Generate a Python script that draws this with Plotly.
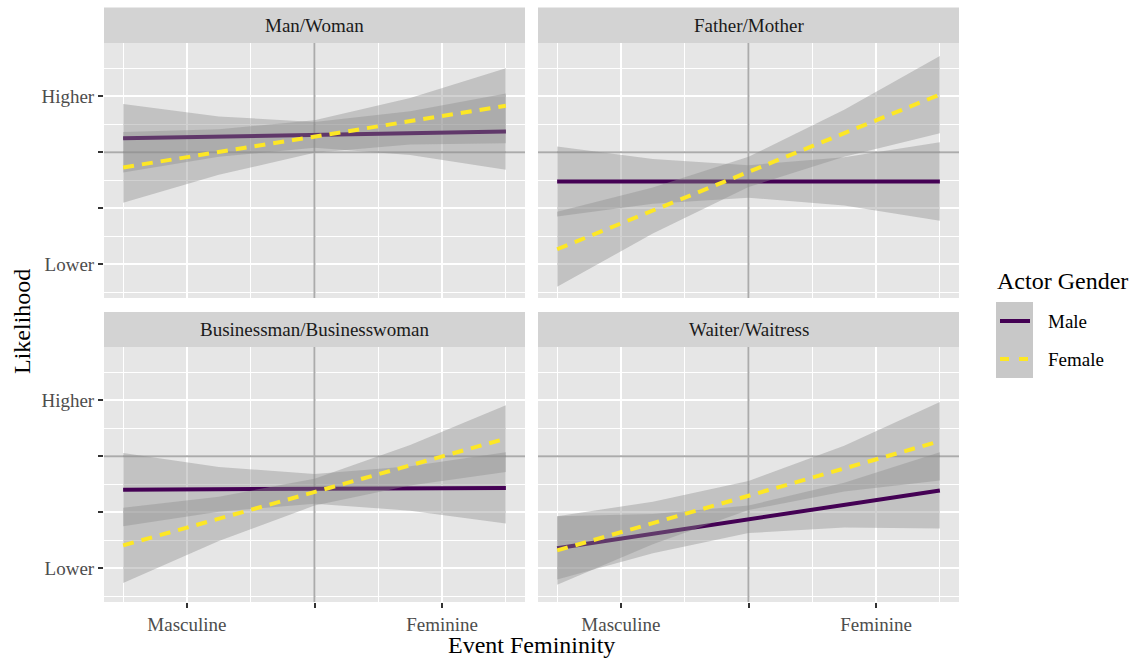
import plotly.graph_objects as go

# ---- data -------------------------------------------------------------
panel_titles = ["Man/Woman", "Father/Mother",
                "Businessman/Businesswoman", "Waiter/Waitress"]

x_line = [-1.5, 1.5]                      # fitted-line end points
x_band = [-1.5, -0.75, 0.0, 0.75, 1.5]    # confidence-band sample points

x_tick_vals = [-1, 0, 1]
x_tick_text = ["Masculine", "", "Feminine"]
y_tick_vals = [1, 2, 3, 4]
y_tick_text = ["Lower", "", "", "Higher"]

x_ref = 0      # vertical reference line (neutral event)
y_ref = 3      # horizontal reference line

male_line = [[3.25, 3.37], [2.48, 2.48], [2.405, 2.435], [1.36, 2.39]]
male_lower = [[2.64, 2.92, 3.08, 2.95, 2.69],
              [1.855, 2.08, 2.19, 2.05, 1.78],
              [1.75, 2.01, 2.155, 2.03, 1.80],
              [0.80, 1.27, 1.63, 1.73, 1.71]]
male_upper = [[3.86, 3.64, 3.54, 3.73, 4.05],
              [3.105, 2.88, 2.77, 2.91, 3.18],
              [3.06, 2.81, 2.685, 2.82, 3.07],
              [1.93, 1.97, 2.12, 2.53, 3.07]]

female_line = [[2.73, 3.83], [1.27, 4.03], [1.41, 3.315], [1.32, 3.27]]
female_lower = [[2.10, 2.60, 2.99, 3.14, 3.16],
                [0.60, 1.55, 2.38, 2.92, 3.34],
                [0.74, 1.49, 2.12, 2.48, 2.72],
                [0.71, 1.43, 2.04, 2.37, 2.57]]
female_upper = [[3.36, 3.41, 3.57, 3.97, 4.50],
                [1.94, 2.37, 2.92, 3.76, 4.72],
                [2.08, 2.28, 2.60, 3.20, 3.91],
                [1.93, 2.19, 2.56, 3.19, 3.97]]

# ---- styling ----------------------------------------------------------
W, H = 1141, 658
FONT = "Liberation Serif, Times New Roman, serif"
MALE_COL = "#440154"
FEMALE_COL = "#FDE725"
BAND_FILL = "rgba(140,140,140,0.4)"
PANEL_BG = "#E6E6E6"
STRIP_BG = "#D3D3D3"
REF_COL = "#ABABAB"
X_RANGE = [-1.65, 1.65]
Y_RANGE = [0.40, 4.95]
SMALL, LARGE = 19, 24
LINE_W = 4

col_px = [(104, 525), (538, 959)]
row_px = [(43, 298), (347, 602)]
strip_px = [(7.5, 43), (312, 347)]


def px(x):
    return x / W


def py(y):
    return 1 - y / H


fig = go.Figure()
shapes, annotations = [], []
layout_axes = {}

for k, title in enumerate(panel_titles):
    r, c = divmod(k, 2)
    suf = "" if k == 0 else str(k + 1)
    xname, yname = "x" + suf, "y" + suf
    bottom = r == 1
    left = c == 0

    # reference lines sit under the bands
    fig.add_trace(go.Scatter(x=[x_ref, x_ref], y=Y_RANGE, mode="lines",
                             line=dict(color=REF_COL, width=2),
                             hoverinfo="skip", showlegend=False,
                             xaxis=xname, yaxis=yname))
    fig.add_trace(go.Scatter(x=X_RANGE, y=[y_ref, y_ref], mode="lines",
                             line=dict(color=REF_COL, width=2),
                             hoverinfo="skip", showlegend=False,
                             xaxis=xname, yaxis=yname))

    # confidence bands and fitted lines: male first, female drawn over it
    for line, lo, hi, col, dash in [
        (male_line[k], male_lower[k], male_upper[k], MALE_COL, "solid"),
        (female_line[k], female_lower[k], female_upper[k], FEMALE_COL, "11px,8px"),
    ]:
        fig.add_trace(go.Scatter(
            x=x_band + x_band[::-1], y=hi + lo[::-1],
            fill="toself", fillcolor=BAND_FILL, mode="lines",
            line=dict(width=0), hoverinfo="skip", showlegend=False,
            xaxis=xname, yaxis=yname))
        fig.add_trace(go.Scatter(
            x=x_line, y=line, mode="lines",
            line=dict(color=col, width=LINE_W, dash=dash),
            showlegend=False, xaxis=xname, yaxis=yname))

    x0p, x1p = col_px[c]
    y0p, y1p = row_px[r]
    layout_axes["xaxis" + suf] = dict(
        domain=[px(x0p), px(x1p)], anchor=yname, range=X_RANGE,
        tickvals=x_tick_vals, ticktext=x_tick_text,
        showgrid=True, gridcolor="white", gridwidth=2,
        minor=dict(tickvals=[-1.5, -0.5, 0.5, 1.5], showgrid=True,
                   gridcolor="white", gridwidth=1, ticks=""),
        zeroline=False, showline=False,
        ticks="outside" if bottom else "", ticklen=5, tickwidth=2,
        tickcolor="#333333", showticklabels=bottom,
        tickfont=dict(family=FONT, size=SMALL, color="#4D4D4D"))
    layout_axes["yaxis" + suf] = dict(
        domain=[py(y1p), py(y0p)], anchor=xname, range=Y_RANGE,
        tickvals=y_tick_vals, ticktext=y_tick_text,
        showgrid=True, gridcolor="white", gridwidth=2,
        minor=dict(tickvals=[0.5, 1.5, 2.5, 3.5, 4.5], showgrid=True,
                   gridcolor="white", gridwidth=1, ticks=""),
        zeroline=False, showline=False,
        ticks="outside" if left else "", ticklen=5, tickwidth=2,
        tickcolor="#333333", showticklabels=left,
        tickfont=dict(family=FONT, size=SMALL, color="#4D4D4D"))

    # facet strip
    s0, s1 = strip_px[r]
    shapes.append(dict(type="rect", xref="paper", yref="paper",
                       x0=px(x0p), x1=px(x1p), y0=py(s1), y1=py(s0),
                       fillcolor=STRIP_BG, line=dict(width=0)))
    annotations.append(dict(text=title, xref="paper", yref="paper",
                            x=px((x0p + x1p) / 2), y=py((s0 + s1) / 2),
                            showarrow=False, xanchor="center", yanchor="middle",
                            font=dict(family=FONT, size=SMALL, color="#1A1A1A")))

# axis titles
annotations.append(dict(text="Event Femininity", xref="paper", yref="paper",
                        x=px((104 + 959) / 2), y=py(645), showarrow=False,
                        xanchor="center", yanchor="middle",
                        font=dict(family=FONT, size=LARGE, color="black")))
annotations.append(dict(text="Likelihood", xref="paper", yref="paper",
                        x=px(22), y=py(322), showarrow=False, textangle=-90,
                        xanchor="center", yanchor="middle",
                        font=dict(family=FONT, size=LARGE, color="black")))

# legend
annotations.append(dict(text="Actor Gender", xref="paper", yref="paper",
                        x=px(995), y=py(281), showarrow=False,
                        xanchor="left", yanchor="middle",
                        font=dict(family=FONT, size=LARGE, color="black")))
shapes.append(dict(type="rect", xref="paper", yref="paper",
                   x0=px(996), x1=px(1033), y0=py(378), y1=py(302),
                   fillcolor="#C8C8C8", line=dict(width=0)))
shapes.append(dict(type="line", xref="paper", yref="paper",
                   x0=px(1000), x1=px(1030), y0=py(321), y1=py(321),
                   line=dict(color=MALE_COL, width=LINE_W)))
shapes.append(dict(type="line", xref="paper", yref="paper",
                   x0=px(1000), x1=px(1030), y0=py(359), y1=py(359),
                   line=dict(color=FEMALE_COL, width=LINE_W, dash="9px,10px")))
for label, yy in [("Male", 321), ("Female", 359)]:
    annotations.append(dict(text=label, xref="paper", yref="paper",
                            x=px(1046), y=py(yy), showarrow=False,
                            xanchor="left", yanchor="middle",
                            font=dict(family=FONT, size=SMALL, color="black")))

fig.update_layout(
    width=W, height=H, margin=dict(l=0, r=0, t=0, b=0),
    paper_bgcolor="white", plot_bgcolor=PANEL_BG,
    showlegend=False, shapes=shapes, annotations=annotations,
    font=dict(family=FONT), **layout_axes)

fig.write_html("out.html")
